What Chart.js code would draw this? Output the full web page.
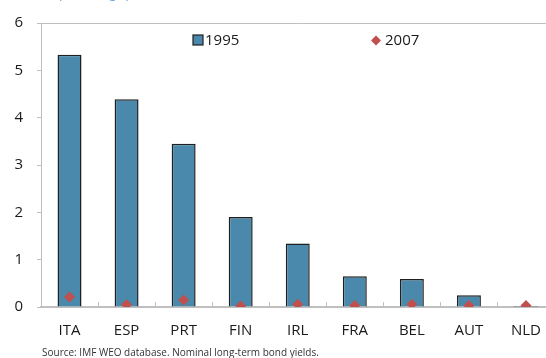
<!DOCTYPE html>
<html>
<head>
<meta charset="utf-8">
<script src="https://cdn.jsdelivr.net/npm/chart.js@4/dist/chart.umd.min.js"></script>
<style>
  html, body { margin: 0; padding: 0; background: #fff; overflow: hidden; width: 546px; height: 358px; }
  canvas { display: block; }
</style>
</head>
<body>
<canvas id="spreadChart" width="560" height="358"></canvas>
<script>
// Long-term bond yield spread vs. Germany, percentage points
const countries = ['ITA', 'ESP', 'PRT', 'FIN', 'IRL', 'FRA', 'BEL', 'AUT', 'NLD'];
const spread1995 = [5.33, 4.39, 3.45, 1.90, 1.34, 0.65, 0.59, 0.25, 0.02];
const spread2007 = [0.21, 0.05, 0.15, 0.02, 0.06, 0.03, 0.06, 0.03, 0.03];
const yTicks = [0, 1, 2, 3, 4, 5, 6];

const axisGray = '#bfbfbf';
const fontFam = '"Open Sans", "Noto Sans", sans-serif';

// Frame, inward category ticks, spread-out legend, subtitle and source note
const decor = {
    id: 'decor',
    beforeDatasetsDraw(chart) {
        const { ctx, chartArea: a, scales: { x } } = chart;
        ctx.save();
        ctx.strokeStyle = axisGray;
        ctx.lineWidth = 1;
        ctx.beginPath();
        ctx.moveTo(a.left, a.top + 0.5);
        ctx.lineTo(a.right, a.top + 0.5);
        ctx.stroke();
        // category boundary ticks pointing up from the x axis
        for (let i = 1; i < countries.length; i++) {
            const px = Math.round(x.getPixelForValue(i - 0.5)) + 0.5;
            ctx.beginPath();
            ctx.moveTo(px, a.bottom);
            ctx.lineTo(px, a.bottom - 5);
            ctx.stroke();
        }
        ctx.restore();
    },
    afterDraw(chart) {
        const { ctx } = chart;
        const ds = chart.data.datasets;
        ctx.save();
        ctx.textBaseline = 'middle';
        ctx.font = '15px ' + fontFam;
        ctx.fillStyle = '#1a1a1a';

        // legend: 1995 box
        ctx.fillStyle = ds[0].backgroundColor;
        ctx.fillRect(193, 35, 10, 10);
        ctx.strokeStyle = ds[0].borderColor;
        ctx.lineWidth = 1.2;
        ctx.strokeRect(193, 35, 10, 10);
        ctx.fillStyle = '#1a1a1a';
        ctx.fillText(ds[0].label, 205, 41);

        // legend: 2007 diamond
        ctx.fillStyle = ds[1].backgroundColor;
        ctx.beginPath();
        ctx.moveTo(376, 35.5);
        ctx.lineTo(381, 40.5);
        ctx.lineTo(376, 45.5);
        ctx.lineTo(371, 40.5);
        ctx.closePath();
        ctx.fill();
        ctx.fillStyle = '#1a1a1a';
        ctx.fillText(ds[1].label, 385, 41);

        // subtitle, mostly above the top edge
        ctx.textBaseline = 'alphabetic';
        ctx.font = '12px ' + fontFam;
        ctx.fillStyle = '#5b9bd5';
        ctx.fillText('(In percentage points)', 42, -2);

        ctx.font = '10px ' + fontFam;
        ctx.fillStyle = '#333';
        ctx.fillText('Source: IMF WEO database. Nominal long-term bond yields.', 42, 356);
        ctx.restore();
    }
};

new Chart(document.getElementById('spreadChart'), {
    type: 'bar',
    data: {
        labels: countries,
        datasets: [
            {
                label: '1995',
                data: spread1995,
                backgroundColor: '#4a89ab',
                borderColor: '#1f1f1f',
                borderWidth: 1.5,
                barPercentage: 0.42,
                categoryPercentage: 1,
                order: 2
            },
            {
                type: 'line',
                label: '2007',
                data: spread2007,
                showLine: false,
                pointStyle: 'rectRot',
                pointRadius: 5.5,
                backgroundColor: '#c0504d',
                borderColor: '#c0504d',
                borderWidth: 0,
                order: 1
            }
        ]
    },
    options: {
        responsive: false,
        animation: false,
        layout: { padding: { top: 20, right: 3, left: 0, bottom: 0 } },
        plugins: { legend: { display: false }, tooltip: { enabled: false } },
        scales: {
            x: {
                afterFit: (s) => { s.height = 51; },
                grid: { display: false },
                border: { color: axisGray, width: 2 },
                ticks: { color: '#1a1a1a', font: { family: fontFam, size: 15 }, padding: 7, maxRotation: 0 }
            },
            y: {
                min: 0,
                max: 6,
                afterFit: (s) => { s.width = 41; },
                afterBuildTicks: (s) => { s.ticks = yTicks.map(v => ({ value: v })); },
                grid: { drawOnChartArea: false, color: axisGray, tickLength: 4 },
                border: { color: axisGray, width: 1 },
                ticks: { color: '#1a1a1a', font: { family: fontFam, size: 15 }, padding: 14 }
            }
        }
    },
    plugins: [decor]
});
</script>
</body>
</html>
